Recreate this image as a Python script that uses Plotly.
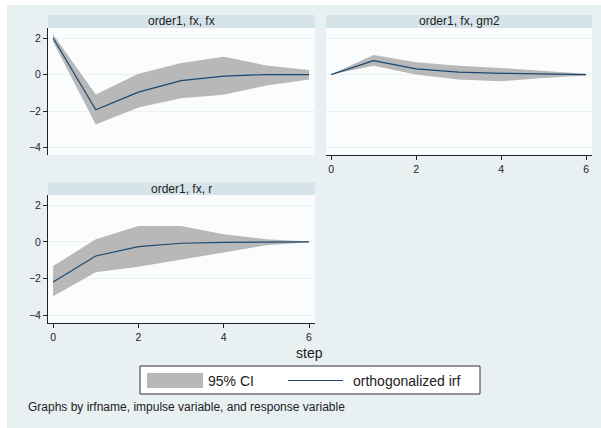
import plotly.graph_objects as go

steps = [0, 1, 2, 3, 4, 5, 6]

titles = ["order1, fx, fx", "order1, fx, gm2", "order1, fx, r"]

irf_fx_fx = [2.0, -1.93, -0.96, -0.33, -0.08, 0.0, 0.0]
lo_fx_fx = [1.8, -2.73, -1.8, -1.29, -1.1, -0.6, -0.27]
hi_fx_fx = [2.2, -1.09, 0.05, 0.64, 0.98, 0.5, 0.25]

irf_fx_gm2 = [0.0, 0.76, 0.31, 0.13, 0.07, 0.02, 0.0]
lo_fx_gm2 = [0.0, 0.49, 0.0, -0.27, -0.36, -0.18, -0.05]
hi_fx_gm2 = [0.0, 1.07, 0.67, 0.49, 0.36, 0.22, 0.05]

irf_fx_r = [-2.18, -0.76, -0.25, -0.07, -0.02, 0.0, 0.0]
lo_fx_r = [-2.95, -1.64, -1.35, -0.95, -0.55, -0.18, -0.02]
hi_fx_r = [-1.31, 0.15, 0.87, 0.87, 0.42, 0.15, 0.02]

y_ticks = [-4, -2, 0, 2]
x_ticks = [0, 2, 4, 6]

legend_labels = ["95% CI", "orthogonalized irf"]
x_title = "step"
note = "Graphs by irfname, impulse variable, and response variable"

W, H = 601, 428
BG = "#E8F0F2"
STRIP = "#D6E4EA"
PLOTBG = "#FAFCFD"
GRID = "#EAF1F3"
LINE = "#1A476F"
CI = "#B8B8B8"
FONT = "Liberation Sans, Arial, sans-serif"

def px(x):
    return x / W

def py(y):
    return 1 - y / H

fig = go.Figure()

series = [
    (irf_fx_fx, lo_fx_fx, hi_fx_fx, "x", "y"),
    (irf_fx_gm2, lo_fx_gm2, hi_fx_gm2, "x2", "y2"),
    (irf_fx_r, lo_fx_r, hi_fx_r, "x3", "y3"),
]
for irf, lo, hi, xa, ya in series:
    fig.add_trace(go.Scatter(x=steps, y=hi, mode="lines", line=dict(width=0),
                             xaxis=xa, yaxis=ya, showlegend=False, hoverinfo="skip"))
    fig.add_trace(go.Scatter(x=steps, y=lo, mode="lines", line=dict(width=0),
                             fill="tonexty", fillcolor=CI,
                             xaxis=xa, yaxis=ya, showlegend=False, hoverinfo="skip"))
    fig.add_trace(go.Scatter(x=steps, y=irf, mode="lines", line=dict(color=LINE, width=1.2),
                             xaxis=xa, yaxis=ya, showlegend=False))

# panel geometry in pixels
panels = {
    "1": dict(x0=48, x1=315, y0=28, y1=155),
    "2": dict(x0=326, x1=592, y0=28, y1=155),
    "3": dict(x0=48, x1=315, y0=195, y1=323),
}
strips = [(48, 315, 15, 28, titles[0]), (326, 592, 15, 28, titles[1]), (48, 315, 182, 195, titles[2])]

yr = [-4.4, 2.55]
xr = [-0.12, 6.14]

tickfont = dict(family=FONT, size=10.5, color="#222")

def xaxis(p, show):
    g = panels[p]
    return dict(domain=[px(g["x0"]), px(g["x1"])], range=xr, tickvals=x_ticks,
                showticklabels=show, ticks="outside" if show else "", ticklen=4,
                tickcolor="#222", showline=show, linecolor="#222", linewidth=1,
                showgrid=False, zeroline=False, tickfont=tickfont, fixedrange=True)

def yaxis(p, show):
    g = panels[p]
    return dict(domain=[py(g["y1"]), py(g["y0"])], range=yr, tickvals=y_ticks,
                showticklabels=show, ticks="outside" if show else "", ticklen=4,
                tickcolor="#222", showline=show, linecolor="#222", linewidth=1,
                showgrid=True, gridcolor=GRID, gridwidth=1, zeroline=False,
                tickfont=tickfont, fixedrange=True)

fig.update_layout(
    xaxis=dict(xaxis("1", False), anchor="y"),
    yaxis=dict(yaxis("1", True), anchor="x"),
    xaxis2=dict(xaxis("2", True), anchor="y2"),
    yaxis2=dict(yaxis("2", False), anchor="x2"),
    xaxis3=dict(xaxis("3", True), anchor="y3"),
    yaxis3=dict(yaxis("3", True), anchor="x3"),
)

shapes = []
annotations = []
# background (white border at left/top)
shapes.append(dict(type="rect", xref="paper", yref="paper", x0=px(7), x1=1, y0=0, y1=py(5),
                   fillcolor=BG, line=dict(width=0), layer="below"))
for p, g in panels.items():
    shapes.append(dict(type="rect", xref="paper", yref="paper",
                       x0=px(g["x0"]), x1=px(g["x1"]), y0=py(g["y1"]), y1=py(g["y0"]),
                       fillcolor=PLOTBG, line=dict(width=0), layer="below"))
for x0, x1, y0, y1, t in strips:
    shapes.append(dict(type="rect", xref="paper", yref="paper", x0=px(x0), x1=px(x1),
                       y0=py(y1), y1=py(y0), fillcolor=STRIP, line=dict(width=0), layer="below"))
    annotations.append(dict(text=t, xref="paper", yref="paper", x=px((x0 + x1) / 2),
                            y=py((y0 + y1) / 2), showarrow=False, xanchor="center", yanchor="middle",
                            font=dict(family=FONT, size=12, color="#222")))

# x title
annotations.append(dict(text=x_title, xref="paper", yref="paper", x=px(309), y=py(353),
                        showarrow=False, xanchor="center", yanchor="middle",
                        font=dict(family=FONT, size=14, color="#222")))

# legend box
shapes.append(dict(type="rect", xref="paper", yref="paper", x0=px(140), x1=px(480),
                   y0=py(394), y1=py(366), fillcolor="white", line=dict(color="#333", width=1)))
shapes.append(dict(type="rect", xref="paper", yref="paper", x0=px(147), x1=px(203),
                   y0=py(388), y1=py(373), fillcolor=CI, line=dict(width=0)))
annotations.append(dict(text=legend_labels[0], xref="paper", yref="paper", x=px(206), y=py(380.5),
                        showarrow=False, xanchor="left", yanchor="middle",
                        font=dict(family=FONT, size=14, color="#222")))
shapes.append(dict(type="line", xref="paper", yref="paper", x0=px(288), x1=px(343),
                   y0=py(380.5), y1=py(380.5), line=dict(color=LINE, width=1.2)))
annotations.append(dict(text=legend_labels[1], xref="paper", yref="paper", x=px(351), y=py(380.5),
                        showarrow=False, xanchor="left", yanchor="middle",
                        font=dict(family=FONT, size=14, color="#222")))

annotations.append(dict(text=note, xref="paper", yref="paper", x=px(26), y=py(407),
                        showarrow=False, xanchor="left", yanchor="middle",
                        font=dict(family=FONT, size=12, color="#222")))

fig.update_layout(width=W, height=H, margin=dict(l=0, r=0, t=0, b=0),
                  paper_bgcolor="white", plot_bgcolor="rgba(0,0,0,0)",
                  shapes=shapes, annotations=annotations, showlegend=False)

fig.write_html("out.html", config={"displayModeBar": False},
               post_script="document.body.style.margin='0';document.body.style.overflow='hidden';")
